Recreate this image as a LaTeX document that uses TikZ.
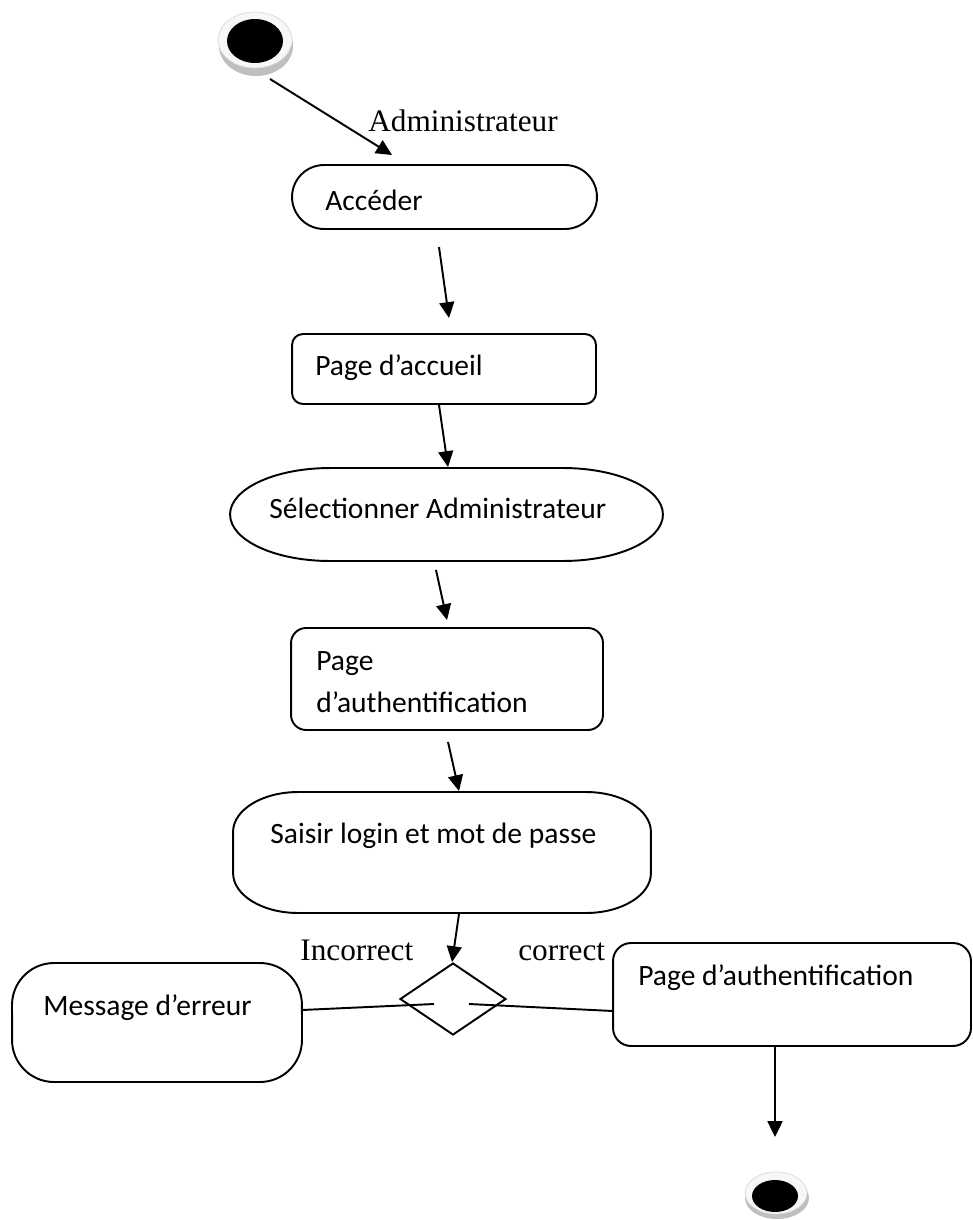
\documentclass[tikz,border=0pt]{standalone}
\usepackage{fontspec}
\setmainfont{Carlito}
\newfontfamily\guardface{Liberation Serif}
\usetikzlibrary{calc,arrows.meta,shapes.geometric}

% one drawing unit in physical length
\newcommand\pxu{0.2mm}

\tikzset{
  boxline/.style={line width=1.1pt, line join=round},
  area/.style 2 args={inner sep=0pt, outer sep=0pt, minimum width=#1*\pxu, minimum height=#2*\pxu},
  flow/.style={line width=1.1pt, -{Triangle[length=9pt,width=8.5pt]}},
  plainlink/.style={line width=1.1pt},
  lbl/.style={anchor=base west, inner sep=0pt, align=left, font=\fontsize{16.8}{23.8}\selectfont},
  guard/.style={anchor=base west, inner sep=0pt, font=\guardface\fontsize{17.8}{20}\selectfont},
  ringshade/.style={fill=gray!50},
  ringtop/.style={fill=gray!6, draw=gray!30, line width=0.4pt},
}

% outline with elliptical corners around a (text-less) node
\newcommand\cornered[3]{%
  \draw[boxline] ($(#1.north west)+(#2,0)$) -- ($(#1.north east)+(-#2,0)$)
    arc[start angle=90,end angle=0,x radius=#2*\pxu,y radius=#3*\pxu]
    -- ($(#1.south east)+(0,-#3)$)
    arc[start angle=0,end angle=-90,x radius=#2*\pxu,y radius=#3*\pxu]
    -- ($(#1.south west)+(#2,0)$)
    arc[start angle=270,end angle=180,x radius=#2*\pxu,y radius=#3*\pxu]
    -- ($(#1.north west)+(0,#3)$)
    arc[start angle=180,end angle=90,x radius=#2*\pxu,y radius=#3*\pxu]
    -- cycle;}

\begin{document}
\begin{tikzpicture}[x=0.02cm, y=-0.02cm]
\useasboundingbox (0,0) rectangle (973,1220);
\fill[white] (0,0) rectangle (973,1220);

% initial and final states
\node[area={75}{64}] (start) at (255.5,44) {};
\fill[ringshade] (256,46) ellipse [x radius=37*\pxu, y radius=30*\pxu];
\filldraw[ringtop] (255,40) ellipse [x radius=37*\pxu, y radius=28*\pxu];
\fill[black] (255,41) ellipse [x radius=28*\pxu, y radius=22*\pxu];

\node[area={64}{47}] (stop) at (776,1195.5) {};
\fill[ringshade] (777,1198) ellipse [x radius=32*\pxu, y radius=21*\pxu];
\filldraw[ringtop] (776,1193) ellipse [x radius=31*\pxu, y radius=21*\pxu];
\fill[black] (775,1196) ellipse [x radius=23*\pxu, y radius=16*\pxu];

% activity and page boxes
\node[area={305}{64}]  (acc)     at (444.5,197)  {};
\node[area={304}{70}]  (accueil) at (444,369)    {};
\node[area={433}{93}]  (sel)     at (446.5,514.5) {};
\node[area={312}{102}] (auth)    at (447,679)    {};
\node[area={418}{121}] (saisir)  at (442,852.5)  {};
\node[area={290}{119}] (msg)     at (157,1022.5) {};
\node[area={358}{103}] (authok)  at (792,994.5)  {};
\node[draw, line width=1.1pt, shape=diamond, inner sep=0pt,
      minimum width=106*\pxu, minimum height=72*\pxu] (choice) at (453,999) {};

\cornered{acc}{32}{32}
\cornered{accueil}{11}{11}
\cornered{sel}{100}{46.5}
\cornered{auth}{15}{15}
\cornered{saisir}{65}{40}
\cornered{msg}{42}{42}
\cornered{authok}{18}{18}

% texts
\node[lbl] (tacc)     at (325,210) {Accéder};
\node[lbl] (taccueil) at (315,375) {Page d’accueil};
\node[lbl] (tsel)     at (269,518) {Sélectionner Administrateur};
\node[lbl] (tauth)    at (316,712) {Page\\d’authentification};
\node[lbl] (tsaisir)  at (270,843) {Saisir login et mot de passe};
\node[lbl] (tmsg)     at (43,1015) {Message d’erreur};
\node[lbl] (tauthok)  at (638,985) {Page d’authentification};

\node[guard] (gadmin) at (368,132) {Administrateur};
\node[guard] (gno)    at (300,960) {Incorrect};
\node[guard] (gyes)   at (518,960) {correct};

% transitions
\draw[flow] ($(start.south)+(14.5,3)$) -- ($(acc.north)+(-52.5,-10)$);
\draw[flow] ($(acc.south)+(-5.5,18)$) -- ($(accueil.north)+(5,-16)$);
\draw[flow] ($(accueil.south)+(-5,1)$) -- ($(sel.north)+(1.5,-1)$);
\draw[flow] ($(sel.south)+(-10.5,9)$) -- ($(auth.north)+(0,-8)$);
\draw[flow] ($(auth.south)+(1,12)$) -- ($(saisir.north)+(17,-1)$);
\draw[flow] ($(saisir.south)+(17,1)$) -- ($(choice.north)+(-1,0)$);
\draw[flow] ($(authok.south)+(-17,0)$) -- ($(stop.north)+(-1,-35)$);

\draw[plainlink] ($(msg.east)+(0,-12.5)$) -- ($(choice.center)+(-19,5)$);
\draw[plainlink] ($(choice.center)+(16,5)$) -- ($(authok.west)+(0,16.5)$);
\end{tikzpicture}
\end{document}
